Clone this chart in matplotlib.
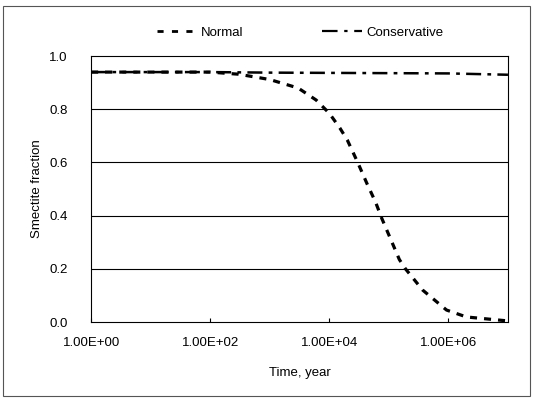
import matplotlib
matplotlib.use("Agg")
import matplotlib.pyplot as plt
from matplotlib.lines import Line2D
from matplotlib.patches import Rectangle
from matplotlib.ticker import FixedLocator, FixedFormatter

plt.rcParams['font.family'] = ['Liberation Sans', 'DejaVu Sans']

# Data
time_normal = [1, 10, 100, 300, 1000, 3000, 6000, 1.0e4, 1.5e4, 2.0e4, 3.0e4, 4.3e4,
               6.0e4, 7.6e4, 1.5e5, 1.9e5, 3.7e5, 9.3e5, 2.0e6, 1.0e7]
normal = [0.94, 0.94, 0.94, 0.932, 0.912, 0.88, 0.835, 0.785, 0.73, 0.685, 0.60, 0.52,
          0.45, 0.39, 0.235, 0.20, 0.12, 0.045, 0.019, 0.004]

time_cons = [1, 10, 100, 1000, 1e4, 1e5, 1e6, 1e7]
conservative = [0.94, 0.94, 0.94, 0.938, 0.937, 0.936, 0.935, 0.93]

xtick_vals = [1, 1e2, 1e4, 1e6]
xtick_labels = ['1.00E+00', '1.00E+02', '1.00E+04', '1.00E+06']
ytick_vals = [0.0, 0.2, 0.4, 0.6, 0.8, 1.0]
ytick_labels = ['0.0', '0.2', '0.4', '0.6', '0.8', '1.0']

fig = plt.figure(figsize=(5.33, 4.01), dpi=100)
ax = fig.add_axes([0.171, 0.197, 0.782, 0.663])

ax.plot(time_cons, conservative, color='black', lw=1.8,
        linestyle=(0, (6, 2.5, 1.5, 2.5)))
ax.plot(time_normal, normal, color='black', lw=2.3,
        linestyle=(0, (2.2, 2.2)))

ax.set_xscale('log')
ax.set_xlim(1, 1e7)
ax.set_ylim(0, 1.0)
ax.xaxis.set_major_locator(FixedLocator(xtick_vals))
ax.xaxis.set_major_formatter(FixedFormatter(xtick_labels))
ax.xaxis.set_minor_locator(FixedLocator([]))
ax.set_yticks(ytick_vals)
ax.set_yticklabels(ytick_labels)

ax.tick_params(axis='x', direction='in', length=3, width=0.8, labelsize=9.5, pad=11)
ax.tick_params(axis='y', length=0, labelsize=9.5, pad=17)

for y in [0.2, 0.4, 0.6, 0.8]:
    ax.axhline(y, color='black', lw=0.8, zorder=0)
for s in ax.spines.values():
    s.set_linewidth(0.8)
    s.set_color('black')

ax.set_xlabel('Time, year', fontsize=9.5, labelpad=13)
ax.set_ylabel('Smectite fraction', fontsize=9.5, labelpad=4)

handles = [
    Line2D([], [], color='black', lw=2.0, linestyle=(0, (2.2, 3.0))),
    Line2D([], [], color='black', lw=1.6, linestyle=(0, (7, 3, 1.5, 3))),
]
fig.legend(handles, ['Normal', 'Conservative'], loc='center',
           bbox_to_anchor=(0.563, 0.918), ncol=2, frameon=False,
           fontsize=9.5, handlelength=3.0, handletextpad=0.3, columnspacing=6)

fig.patches.append(Rectangle((3 / 533, 5 / 401), 527 / 533, 390 / 401,
                             transform=fig.transFigure, fill=False,
                             edgecolor='#555555', lw=0.8))

fig.savefig('out.png', dpi=100)
